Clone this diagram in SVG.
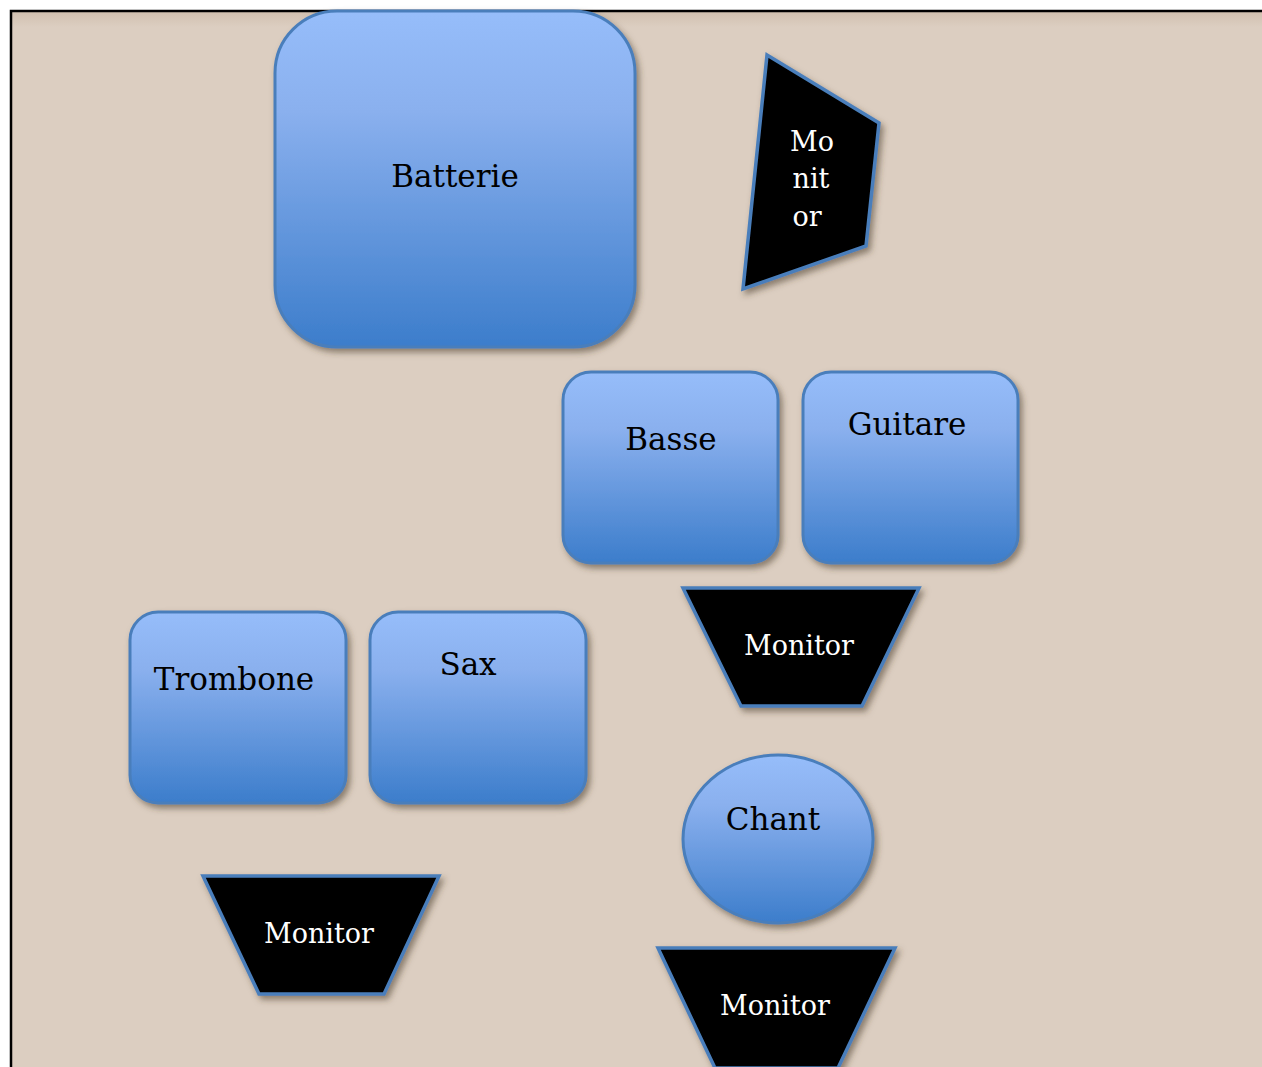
<svg xmlns="http://www.w3.org/2000/svg" width="1262" height="1067" viewBox="0 0 1262 1067">
<defs>
<linearGradient id="blue" x1="0" y1="0" x2="0" y2="1">
<stop offset="0" stop-color="#96bdfa"/>
<stop offset="0.3" stop-color="#8ab0ee"/>
<stop offset="1" stop-color="#3c7dcb"/>
</linearGradient>
<linearGradient id="bg" x1="0" y1="0" x2="0" y2="1">
<stop offset="0" stop-color="#d0bfae"/>
<stop offset="0.015" stop-color="#dccec1"/>
<stop offset="1" stop-color="#dccec1"/>
</linearGradient>
<filter id="sh" x="-20%" y="-20%" width="140%" height="140%">
<feDropShadow dx="3" dy="4" stdDeviation="3" flood-color="#4a3b2c" flood-opacity="0.55"/>
</filter>
<style>
.box{fill:url(#blue);stroke:#4a7ebb;stroke-width:3;filter:url(#sh)}
.mon{fill:#000;stroke:#4a7ebb;stroke-width:3.5;stroke-linejoin:miter;filter:url(#sh)}
.t{font-family:"DejaVu Serif","Liberation Serif",serif;fill:#000;text-anchor:middle}
.w{font-family:"DejaVu Serif","Liberation Serif",serif;fill:#fff;text-anchor:middle;font-size:27px}
</style>
</defs>
<rect x="11" y="11" width="1262" height="1070" fill="url(#bg)" stroke="#000" stroke-width="2.5"/>
<g id="batterie"><rect class="box" x="275" y="11" width="360" height="336" rx="62"/><text class="t" x="455" y="187" font-size="31">Batterie</text></g>
<g id="monitor-top"><polygon class="mon" points="767,55 879,123 866,246 743,289"/>
<text class="w" x="812" y="151">Mo</text><text class="w" x="811" y="188">nit</text><text class="w" x="807" y="226">or</text></g>
<g id="basse"><rect class="box" x="563" y="372" width="215" height="191" rx="28"/><text class="t" x="671" y="450" font-size="31">Basse</text></g>
<g id="guitare"><rect class="box" x="803" y="372" width="215" height="191" rx="28"/><text class="t" x="907" y="435" font-size="31">Guitare</text></g>
<g id="monitor-mid"><polygon class="mon" points="683,588 919,588 862,706 741,706"/><text class="w" x="799" y="655">Monitor</text></g>
<g id="trombone"><rect class="box" x="130" y="612" width="216" height="191" rx="28"/><text class="t" x="234" y="690" font-size="31">Trombone</text></g>
<g id="sax"><rect class="box" x="370" y="612" width="216" height="191" rx="28"/><text class="t" x="468" y="675" font-size="31">Sax</text></g>
<g id="chant"><ellipse class="box" cx="778" cy="839" rx="95" ry="84"/><text class="t" x="773" y="830" font-size="31">Chant</text></g>
<g id="monitor-left"><polygon class="mon" points="203,876 439,876 384,994 259,994"/><text class="w" x="319" y="943">Monitor</text></g>
<g id="monitor-bottom"><polygon class="mon" points="658,948 895,948 838,1068 715,1068"/><text class="w" x="775" y="1015">Monitor</text></g>
<g id="connectors"/>
</svg>
